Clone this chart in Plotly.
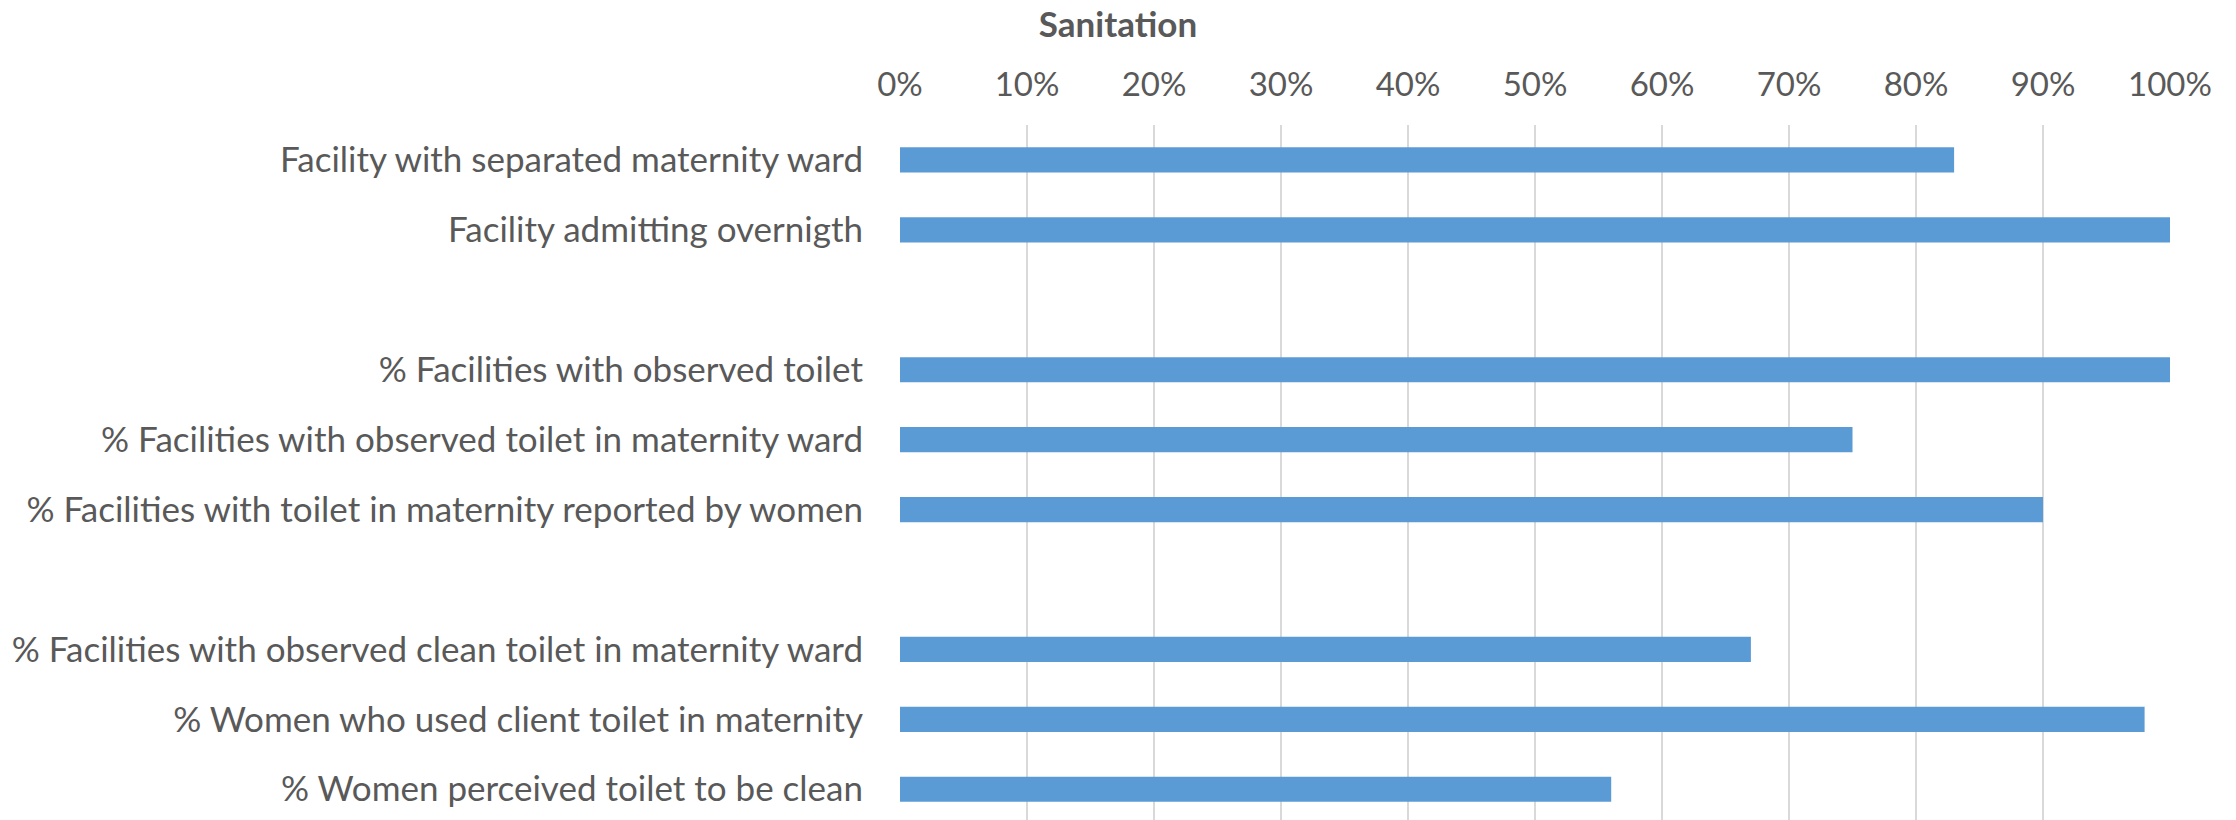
import plotly.graph_objects as go

categories = [
    "Facility with separated maternity ward",
    "Facility admitting overnigth",
    " ",
    "% Facilities with observed toilet",
    "% Facilities with observed toilet in maternity ward",
    "% Facilities with toilet in maternity reported by women",
    "  ",
    "% Facilities with observed clean toilet in maternity ward",
    "% Women who used client toilet in maternity",
    "% Women perceived toilet to be clean",
]
values = [0.83, 1.00, None, 1.00, 0.75, 0.90, None, 0.67, 0.98, 0.56]
tick_vals = [i / 10 for i in range(11)]
tick_text = [f"{i * 10}%" for i in range(11)]

FONT = "Lato"
TXT = "#595959"

fig = go.Figure(
    go.Bar(
        x=values,
        y=categories,
        orientation="h",
        marker=dict(color="#5B9BD5", line=dict(width=0)),
        hoverinfo="x+y",
    )
)

fig.update_layout(
    width=2236,
    height=820,
    margin=dict(l=900, r=66, t=125, b=0, pad=0),
    paper_bgcolor="white",
    plot_bgcolor="white",
    bargap=0.64,
    showlegend=False,
    font=dict(family=FONT, color=TXT, size=33),
    title=dict(
        text="<b>Sanitation</b>",
        x=0.5,
        xref="container",
        xanchor="center",
        y=1 - 25 / 820,
        yref="container",
        yanchor="middle",
        font=dict(family=FONT, size=35, color=TXT),
    ),
)

fig.update_xaxes(
    side="top",
    range=[0, 1],
    tickvals=tick_vals,
    ticktext=tick_text,
    showgrid=True,
    gridcolor="#D9D9D9",
    gridwidth=1.5,
    zeroline=False,
    showline=False,
    ticks="",
    tickfont=dict(family=FONT, size=33, color=TXT),
    ticklabelstandoff=21,
)

fig.update_yaxes(
    type="category",
    range=[9.44, -0.5],
    showgrid=False,
    zeroline=False,
    showline=False,
    ticks="",
    tickfont=dict(family=FONT, size=35, color=TXT),
    ticklabelstandoff=36,
)

fig.write_html("out.html")
